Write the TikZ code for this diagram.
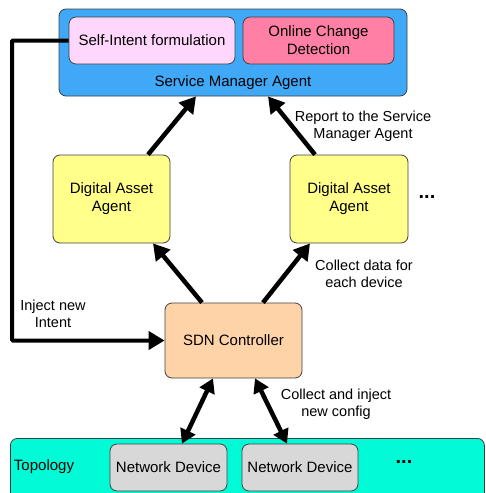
\documentclass[tikz,border=0pt]{standalone}
\usepackage{fontspec}
\setmainfont{Liberation Sans}
\usepackage{xcolor}
\usetikzlibrary{arrows.meta,positioning,calc}
\definecolor{smablue}{HTML}{3FA9F8}
\definecolor{intentpink}{HTML}{FFD6FC}
\definecolor{changerose}{HTML}{FF7FA5}
\definecolor{assetyellow}{HTML}{FFFF8A}
\definecolor{sdnorange}{HTML}{FFD3A8}
\definecolor{topocyan}{HTML}{00FBD6}
\definecolor{devgray}{HTML}{D8D8D8}
\tikzset{
	box/.style={draw=black!75, line width=0.8pt, rounded corners=7pt, inner sep=0pt,
			align=center, font=\fontsize{15}{18}\selectfont},
	bigarrow/.style={line width=4.5pt, -{Triangle[length=16pt,width=18pt]}},
	twoarrow/.style={line width=4.5pt, {Triangle[length=14pt,width=16pt]}-{Triangle[length=14pt,width=16pt]}},
	note/.style={align=center, font=\fontsize{14.5}{17}\selectfont},
	dotsbox/.style={font=\fontsize{20}{20}\selectfont\bfseries}
}

\begin{document}
\begin{tikzpicture}[x=1pt,y=-1pt]
			\useasboundingbox (0,0) rectangle (485,493);
			
			% Service Manager Agent
			\node[box, fill=smablue, minimum width=348pt, minimum height=87pt] (sma) at (233,52.5) {};
			\node[font=\fontsize{15}{18}\selectfont] (smalabel) at (233,83) {Service Manager Agent};
			\node[box, fill=intentpink, minimum width=166pt, minimum height=47pt] (intent) at (152,40.5) {Self-Intent formulation};
			\node[box, fill=changerose, minimum width=151pt, minimum height=47pt] (change) at (318.5,40.5) {Online Change\\Detection};
			
			% Digital Asset Agents
			\node[box, fill=assetyellow, minimum width=117pt, minimum height=88pt] (daaL) at (111.5,199) {Digital Asset\\Agent};
			\node[box, fill=assetyellow, minimum width=118pt, minimum height=88pt] (daaR) at (349,199) {Digital Asset\\Agent};
			\node[dotsbox] (dotsA) at (427,197) {...};
			
			% SDN Controller
			\node[box, fill=sdnorange, minimum width=137pt, minimum height=75pt] (sdn) at (233.5,340.5) {SDN Controller};
			
			% Topology
			\node[box, fill=topocyan, minimum width=474pt, minimum height=62pt, anchor=north west] (topo) at (10,438) {};
			\node[font=\fontsize{15}{18}\selectfont] (topolabel) at (44,467) {Topology};
			\node[box, fill=devgray, minimum width=117pt, minimum height=47pt] (devA) at (168.5,467.5) {Network Device};
			\node[box, fill=devgray, minimum width=116pt, minimum height=47pt] (devB) at (300,467.5) {Network Device};
			\node[dotsbox] (dotsB) at (404,462) {...};
			
			% Arrows up to the Service Manager Agent
			\draw[bigarrow] ([xshift=36.5pt]daaL.north) -- ([xshift=-37pt]sma.south);
			\draw[bigarrow] ([xshift=-34pt]daaR.north) -- ([xshift=35pt]sma.south);
			\node[note] (report) at (363,126.5) {Report to the Service\\Manager Agent};
			
			% Arrows up to the Digital Asset Agents
			\draw[bigarrow] ([xshift=-31.5pt]sdn.north) -- ([xshift=41.5pt]daaL.south);
			\draw[bigarrow] ([xshift=29.5pt]sdn.north) -- ([xshift=-39pt]daaR.south);
			\node[note] (collect) at (364,274) {Collect data for\\each device};
			
			% Inject new Intent
			\coordinate (bend) at (12,340.5);
			\draw[bigarrow, line width=4pt, rounded corners=1pt] (intent.west) -| (bend) -- (sdn.west);
			\node[note] (inject) at (53,314) {Inject new\\Intent};
			
			% Arrows between controller and devices
			\draw[twoarrow] ([xshift=-20.5pt]sdn.south) -- ([xshift=13.5pt]devA.north);
			\draw[twoarrow] ([xshift=21.5pt]sdn.south) -- ([xshift=-13pt]devB.north);
			\node[note] (config) at (336,404.5) {Collect and inject\\new config};
			
		\end{tikzpicture}
\end{document}
